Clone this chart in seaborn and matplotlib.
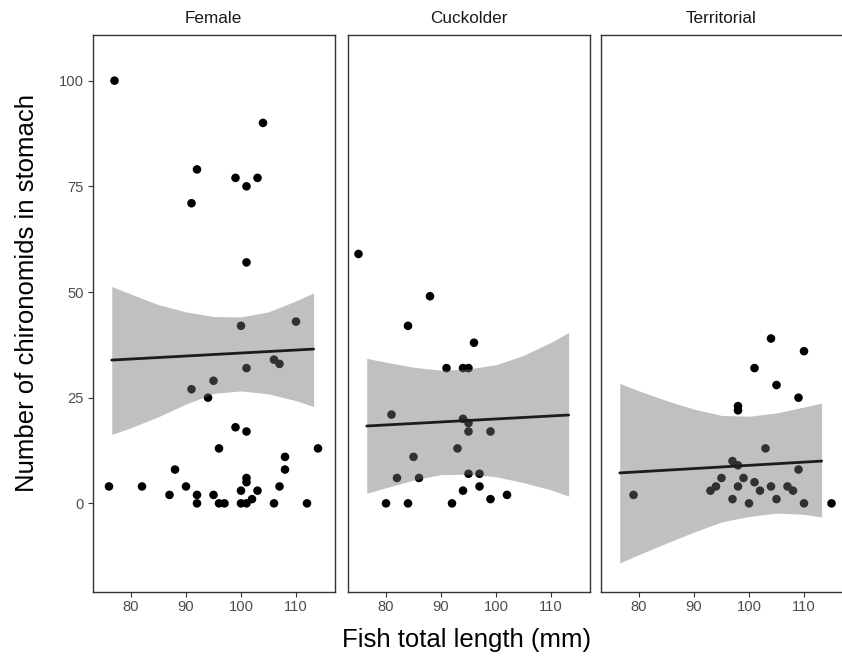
import numpy as np
import pandas as pd
import matplotlib
matplotlib.use("Agg")
import matplotlib.pyplot as plt
import seaborn as sns

# ---------------- data ----------------
groups = ["Female", "Cuckolder", "Territorial"]

female_len = [77, 104, 92, 99, 103, 101, 91, 101, 100, 110, 106, 107, 101, 95, 91, 94,
              99, 101, 96, 114, 108, 108, 88, 76, 82, 90, 107, 101, 101, 100, 103, 87,
              92, 95, 102, 92, 96, 97, 100, 101, 106, 112]
female_chir = [100, 90, 79, 77, 77, 75, 71, 57, 42, 43, 34, 33, 32, 29, 27, 25,
               18, 17, 13, 13, 11, 8, 8, 4, 4, 4, 4, 6, 5, 3, 3, 2,
               2, 2, 1, 0, 0, 0, 0, 0, 0, 0]

cuckolder_len = [75, 88, 84, 96, 91, 94, 95, 81, 94, 95, 95, 99, 93, 85, 82, 86,
                 95, 97, 97, 94, 102, 99, 80, 84, 92]
cuckolder_chir = [59, 49, 42, 38, 32, 32, 32, 21, 20, 19, 17, 17, 13, 11, 6, 6,
                  7, 7, 4, 3, 2, 1, 0, 0, 0]

territorial_len = [104, 110, 101, 105, 109, 98, 98, 103, 97, 98, 109, 95, 99, 94, 101,
                   98, 104, 107, 93, 102, 108, 79, 97, 105, 100, 110, 115]
territorial_chir = [39, 36, 32, 28, 25, 23, 22, 13, 10, 9, 8, 6, 6, 4, 5,
                    4, 4, 4, 3, 3, 3, 2, 1, 1, 0, 0, 0]

# fitted line (end points) and confidence band
line_x = [76.5, 113.2]
female_line = [33.9, 36.5]
cuckolder_line = [18.3, 20.9]
territorial_line = [7.2, 10.0]

band_x = [76.5, 80, 85, 90, 95, 100, 105, 110, 113.2]
female_upper = [51.3, 49.5, 47.0, 45.3, 44.2, 44.1, 45.3, 47.9, 49.8]
female_lower = [16.3, 17.9, 20.5, 23.5, 26.0, 26.6, 25.9, 24.3, 22.9]
cuckolder_upper = [34.3, 33.4, 32.2, 31.5, 31.8, 32.8, 35.0, 38.1, 40.4]
cuckolder_lower = [2.4, 3.7, 5.5, 6.8, 6.9, 6.3, 4.9, 3.2, 1.7]
territorial_upper = [28.4, 26.6, 24.3, 22.3, 20.8, 20.6, 21.4, 22.8, 23.7]
territorial_lower = [-14.1, -12.1, -9.4, -6.8, -4.4, -3.1, -2.3, -2.6, -3.2]

x_ticks = [80, 90, 100, 110]
y_ticks = [0, 25, 50, 75, 100]

points = {
    "Female": (female_len, female_chir),
    "Cuckolder": (cuckolder_len, cuckolder_chir),
    "Territorial": (territorial_len, territorial_chir),
}
lines = {"Female": female_line, "Cuckolder": cuckolder_line, "Territorial": territorial_line}
bands = {
    "Female": (female_lower, female_upper),
    "Cuckolder": (cuckolder_lower, cuckolder_upper),
    "Territorial": (territorial_lower, territorial_upper),
}

# ---------------- style ----------------
sns.set_theme(style="white")
plt.rcParams['font.family'] = ['Liberation Sans', 'DejaVu Sans']

W, H = 842, 659
fig = plt.figure(figsize=(W / 100, H / 100), dpi=100)

lefts = [92.5, 347.5, 600.5]
width = 242
top_px, bottom_px = 35, 591.7

for i, g in enumerate(groups):
    ax = fig.add_axes([lefts[i] / W, (H - bottom_px) / H, width / W, (bottom_px - top_px) / H])
    df = pd.DataFrame({"length": points[g][0], "chir": points[g][1]})
    sns.scatterplot(data=df, x="length", y="chir", ax=ax, color="black", s=38,
                    edgecolor="none", linewidth=0, zorder=2)
    lo, up = bands[g]
    ax.fill_between(band_x, lo, up, color="#707070", alpha=0.44, linewidth=0, zorder=3)
    sns.lineplot(x=line_x, y=lines[g], ax=ax, color="#1c1c1c", linewidth=2.0, zorder=4)

    ax.set_xlim(73, 117)
    ax.set_ylim(-20.9, 110.8)
    ax.set_xticks(x_ticks)
    ax.set_xticklabels([str(t) for t in x_ticks])
    ax.set_xlabel("")
    ax.set_ylabel("")
    if i == 0:
        ax.set_yticks(y_ticks)
        ax.set_yticklabels([str(t) for t in y_ticks])
        ax.tick_params(axis="y", left=True, length=3.3, width=0.8, color="#333333",
                       labelsize=10.6, labelcolor="#4d4d4d", pad=3)
    else:
        ax.set_yticks([])
    ax.tick_params(axis="x", bottom=True, length=3.3, width=0.8, color="#333333",
                   labelsize=10.6, labelcolor="#4d4d4d", pad=3)
    for sp in ax.spines.values():
        sp.set_visible(True)
        sp.set_color("#333333")
        sp.set_linewidth(1.0)
    ax.grid(False)
    ax.text(0.5, 1 + 17 / (bottom_px - top_px), g, transform=ax.transAxes,
            ha="center", va="center", fontsize=12.3, color="#1a1a1a")

fig.text(27 / W, 1 - 293 / H, "Number of chironomids in stomach",
         rotation=90, ha="center", va="center", fontsize=18.5, color="black")
fig.text(467 / W, 1 - 640 / H, "Fish total length (mm)",
         ha="center", va="center", fontsize=18.5, color="black")

fig.savefig("out.png", dpi=100, facecolor="white")
